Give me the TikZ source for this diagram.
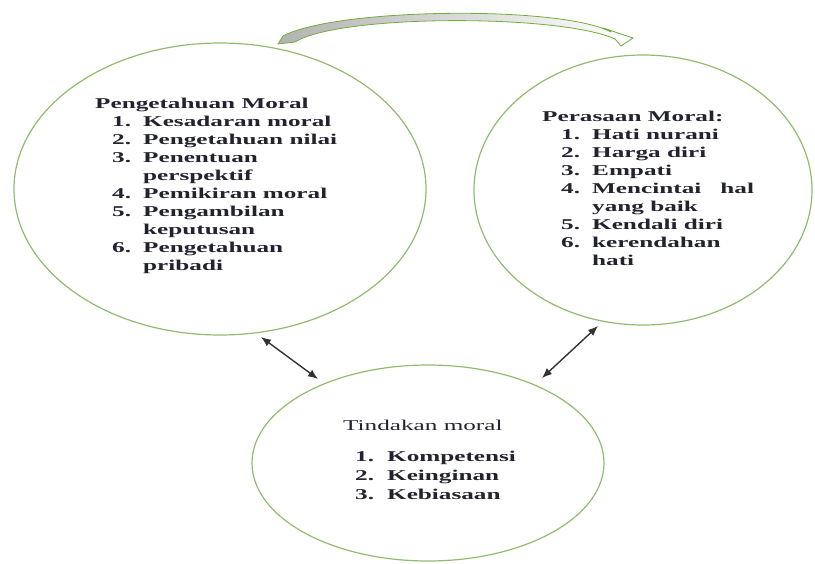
\documentclass[tikz,border=0pt]{standalone}
\usepackage{fontspec}
\setmainfont{Liberation Serif}[FakeStretch=1.68]
\usetikzlibrary{shapes.geometric,arrows.meta}
\definecolor{circ}{RGB}{145,188,110}
\definecolor{arcg}{RGB}{112,173,60}
\definecolor{txt}{RGB}{35,35,48}
\newlength{\numind}
\newlength{\numw}
\newcommand{\li}[2]{\hbox{\kern\numind\makebox[\numw][l]{#1}#2}}
\newcommand{\lc}[1]{\hbox{\kern\numind\kern\numw #1}}
\begin{document}
\begin{tikzpicture}[x=1pt,y=-1pt,
  bub/.style={draw=circ,line width=1.2pt,ellipse,inner sep=0pt},
  lst/.style={anchor=base west,inner sep=0pt,text=txt,font=\fontsize{15}{18}\selectfont\bfseries},
  hdr/.style={anchor=base west,inner sep=0pt,text=txt,font=\fontsize{15}{18}\selectfont},
  dbl/.style={{Latex[length=10pt,width=8pt]}-{Latex[length=10pt,width=8pt]},line width=1.4pt,draw=black!80}]
\useasboundingbox (0,0) rectangle (815,563);
% circles
\node[bub,minimum width=412pt,minimum height=292pt] (L) at (220,189) {};
\node[bub,minimum width=338pt,minimum height=270pt] (R) at (643,190) {};
\node[bub,minimum width=352pt,minimum height=196pt] (B) at (428,463) {};
% top curved arrow
\path[draw=arcg,line width=0.8pt,left color=gray!60,right color=white]
  (278,44) -- (283,36) .. controls (335,8) and (560,5) .. (611,32)
  -- (606,29) -- (633,38) -- (621,46) -- (615,39)
  .. controls (560,14) and (340,14) .. (295,42) -- cycle;
% texts
\node[lst] (Lt) at (95,108) {\vtop{\baselineskip=18pt
  \setlength{\numind}{17pt}\setlength{\numw}{31pt}
  \hbox{Pengetahuan Moral}
  \li{1.}{Kesadaran moral}
  \li{2.}{Pengetahuan nilai}
  \li{3.}{Penentuan}
  \lc{perspektif}
  \li{4.}{Pemikiran moral}
  \li{5.}{Pengambilan}
  \lc{keputusan}
  \li{6.}{Pengetahuan}
  \lc{pribadi}}};
\node[lst] (Rt) at (542,121) {\vtop{\baselineskip=18pt
  \setlength{\numind}{19pt}\setlength{\numw}{31pt}
  \hbox{Perasaan Moral:}
  \li{1.}{Hati nurani}
  \li{2.}{Harga diri}
  \li{3.}{Empati}
  \li{4.}{Mencintai\kern19pt hal}
  \lc{yang baik}
  \li{5.}{Kendali diri}
  \li{6.}{kerendahan}
  \lc{hati}}};
\node[hdr] (Bh) at (343,430) {Tindakan moral};
\node[lst] (Bt) at (355,461) {\vtop{\baselineskip=19pt
  \setlength{\numind}{0pt}\setlength{\numw}{32pt}
  \li{1.}{Kompetensi}
  \li{2.}{Keinginan}
  \li{3.}{Kebiasaan}}};
% double arrows
\coordinate (a1) at (261,337);
\coordinate (a2) at (318,379);
\coordinate (b1) at (598,326);
\coordinate (b2) at (542,378);
\draw[dbl] (a1) -- (a2);
\draw[dbl] (b1) -- (b2);
\end{tikzpicture}
\end{document}
